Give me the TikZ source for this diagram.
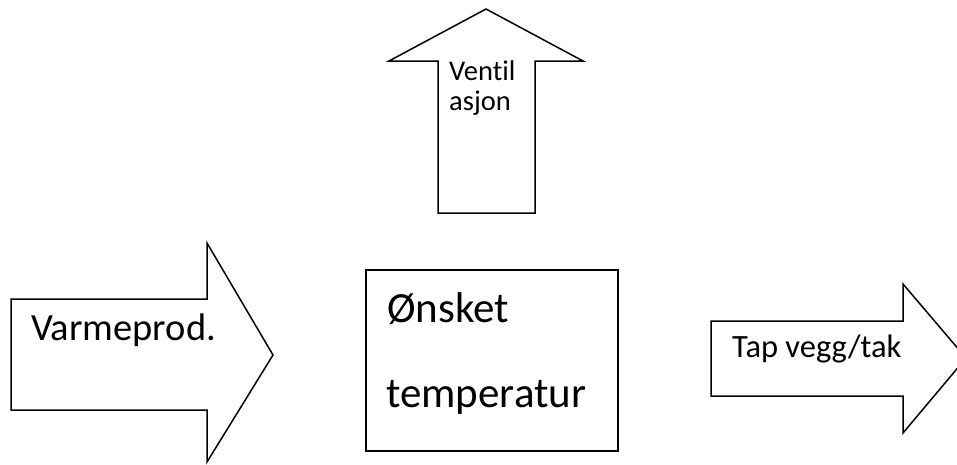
\documentclass[tikz,border=0pt]{standalone}
\usepackage{fontspec}
\setmainfont[Ligatures=NoCommon]{Carlito}
\tikzset{
  shapeline/.style={line width=1.5pt, line join=miter},
  txt/.style={anchor=base west, inner sep=0pt}
}
\begin{document}
\begin{tikzpicture}[x=1pt, y=-1pt]
     \useasboundingbox (0,0) rectangle (957,464);

     % ventilation (up)
     \draw[shapeline] (438,213) -- (438,61) -- (389,61) -- (486,9) -- (583,61)
                      -- (535,61) -- (535,213) -- cycle;
     \node[txt] (vent1) at (449,80) {\fontsize{28.5}{34}\selectfont Ventil};
     \node[txt] (vent2) at (449,110) {\fontsize{28.5}{34}\selectfont asjon};

     % heat in
     \draw[shapeline] (11,299) -- (207,299) -- (207,243) -- (273,355) -- (207,462)
                      -- (207,410) -- (11,410) -- cycle;
     \node[txt] (heat) at (31,340) {\fontsize{38.5}{46}\selectfont Varmeprod.};

     % room
     \draw[shapeline] (366,270) rectangle (618,451);
     \node[txt] (temp1) at (387,322) {\fontsize{43}{52}\selectfont Ønsket};
     \node[txt] (temp2) at (386,407) {\fontsize{43}{52}\selectfont temperatur};

     % loss
     \draw[shapeline] (711,321) -- (903,321) -- (903,284) -- (966,358) -- (903,433)
                      -- (903,396) -- (711,396) -- cycle;
     \node[txt] (loss) at (732,357) {\fontsize{32.5}{39}\selectfont Tap vegg/tak};

\end{tikzpicture}
\end{document}
